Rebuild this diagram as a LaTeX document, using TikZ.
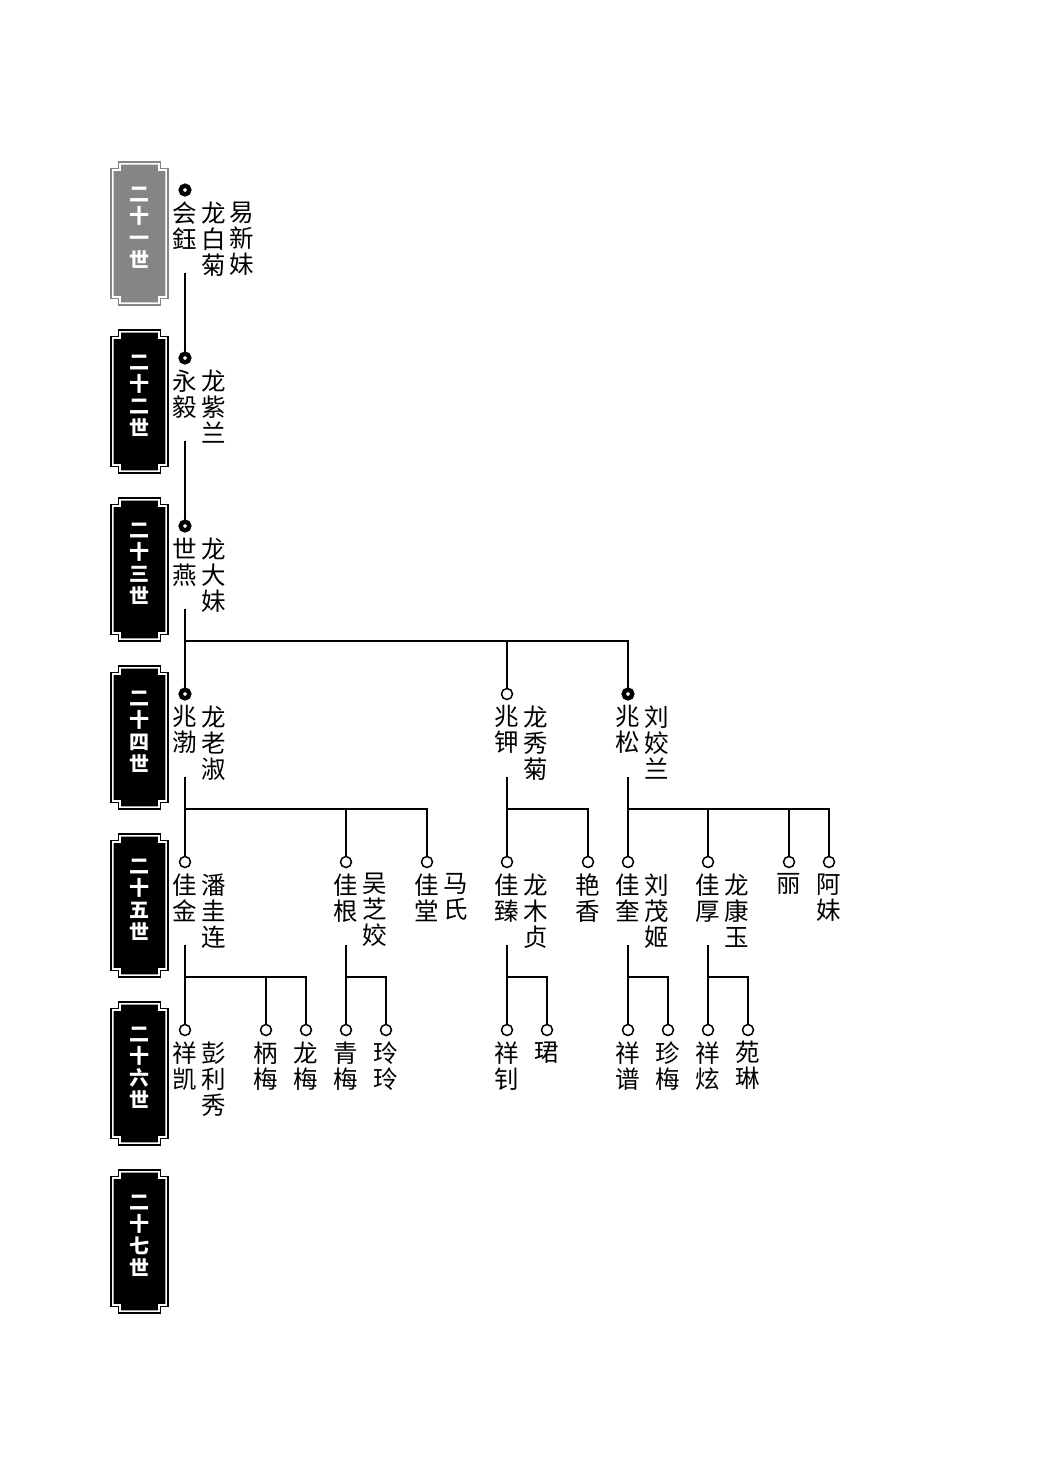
\documentclass[tikz,border=0pt]{standalone}
\usepackage{fontspec}
\setmainfont{Noto Sans CJK SC}
\usetikzlibrary{positioning}
\definecolor{genGray}{gray}{0.52}
\begin{document}
\begin{tikzpicture}[x=1pt,y=-1pt,
	lead/.style={circle,draw,line width=4.4pt,minimum size=8.6pt,inner sep=0pt},
	kin/.style={circle,draw,fill=white,line width=1.5pt,minimum size=11pt,inner sep=0pt},
	who/.style={text width=25pt,align=center,inner sep=0pt,font=\fontsize{24.5}{26}\selectfont},
	link/.style={line width=1.7pt}]
	\useasboundingbox (0,0) rectangle (1041,1473);
	% generation boxes
	\foreach \i/\gn/\col in {0/一/genGray,1/二/black,2/三/black,3/四/black,4/五/black,5/六/black,6/七/black}{
		\begin{scope}[shift={(111,162+168*\i)}]
			\draw[\col,line width=1.2pt](7.5,0)--(49.5,0)--(49.5,6.5)--(57,6.5)--(57,136.5)--(49.5,136.5)--(49.5,143)--(7.5,143)--(7.5,136.5)--(0,136.5)--(0,6.5)--(7.5,6.5)--cycle;
			\fill[\col](10.1,2.6)--(46.9,2.6)--(46.9,9.1)--(54.4,9.1)--(54.4,133.9)--(46.9,133.9)--(46.9,140.4)--(10.1,140.4)--(10.1,133.9)--(2.6,133.9)--(2.6,9.1)--(10.1,9.1)--cycle;
			\node[white,inner sep=0pt,align=center,font=\bfseries\fontsize{20}{22}\selectfont] at (28.5,66) {二\\十\\\gn\\世};
		\end{scope}
	}
	% 21
	\node[lead](hy) at (185,190) {};
	\node[who,below=5pt of hy](hyn) {会\\鈺};
	\node[who,anchor=north west](hys) at ([xshift=3pt]hyn.north east) {龙\\白\\菊};
	\node[who,anchor=north west](hyt) at ([xshift=3pt]hys.north east) {易\\新\\妹};
	% 22
	\node[lead](yy) at (185,358) {};
	\node[who,below=5pt of yy](yyn) {永\\毅};
	\node[who,anchor=north west](yys) at ([xshift=3pt]yyn.north east) {龙\\紫\\兰};
	% 23
	\node[lead](sy) at (185,526) {};
	\node[who,below=5pt of sy](syn) {世\\燕};
	\node[who,anchor=north west](sys) at ([xshift=3pt]syn.north east) {龙\\大\\妹};
	% 24
	\node[lead](zb) at (185,694) {};
	\node[who,below=5pt of zb](zbn) {兆\\渤};
	\node[who,anchor=north west](zbs) at ([xshift=3pt]zbn.north east) {龙\\老\\淑};
	\node[kin](zj) at (507,694) {};
	\node[who,below=5pt of zj](zjn) {兆\\钾};
	\node[who,anchor=north west](zjs) at ([xshift=3pt]zjn.north east) {龙\\秀\\菊};
	\node[lead](zs) at (628,694) {};
	\node[who,below=5pt of zs](zsn) {兆\\松};
	\node[who,anchor=north west](zss) at ([xshift=3pt]zsn.north east) {刘\\姣\\兰};
	% 25
	\node[kin](jj) at (185,862) {};
	\node[who,below=5pt of jj](jjn) {佳\\金};
	\node[who,anchor=north west](jjs) at ([xshift=3pt]jjn.north east) {潘\\圭\\连};
	\node[kin](jg) at (346,862) {};
	\node[who,below=5pt of jg](jgn) {佳\\根};
	\node[who,anchor=north west](jgs) at ([xshift=3pt]jgn.north east) {吴\\芝\\姣};
	\node[kin](jt) at (427,862) {};
	\node[who,below=5pt of jt](jtn) {佳\\堂};
	\node[who,anchor=north west](jts) at ([xshift=3pt]jtn.north east) {马\\氏};
	\node[kin](jz) at (507,862) {};
	\node[who,below=5pt of jz](jzn) {佳\\臻};
	\node[who,anchor=north west](jzs) at ([xshift=3pt]jzn.north east) {龙\\木\\贞};
	\node[kin](yx) at (588,862) {};
	\node[who,below=5pt of yx](yxn) {艳\\香};
	\node[kin](jk) at (628,862) {};
	\node[who,below=5pt of jk](jkn) {佳\\奎};
	\node[who,anchor=north west](jks) at ([xshift=3pt]jkn.north east) {刘\\茂\\姬};
	\node[kin](jh) at (708,862) {};
	\node[who,below=5pt of jh](jhn) {佳\\厚};
	\node[who,anchor=north west](jhs) at ([xshift=3pt]jhn.north east) {龙\\康\\玉};
	\node[kin](li) at (789,862) {};
	\node[who,below=5pt of li](lin) {丽};
	\node[kin](am) at (829,862) {};
	\node[who,below=5pt of am](amn) {阿\\妹};
	% 26
	\node[kin](xk) at (185,1030) {};
	\node[who,below=5pt of xk](xkn) {祥\\凯};
	\node[who,anchor=north west](xks) at ([xshift=3pt]xkn.north east) {彭\\利\\秀};
	\node[kin](bm) at (266,1030) {};
	\node[who,below=5pt of bm](bmn) {柄\\梅};
	\node[kin](lm) at (306,1030) {};
	\node[who,below=5pt of lm](lmn) {龙\\梅};
	\node[kin](qm) at (346,1030) {};
	\node[who,below=5pt of qm](qmn) {青\\梅};
	\node[kin](ll) at (386,1030) {};
	\node[who,below=5pt of ll](lln) {玲\\玲};
	\node[kin](xz) at (507,1030) {};
	\node[who,below=5pt of xz](xzn) {祥\\钊};
	\node[kin](jun) at (547,1030) {};
	\node[who,below=5pt of jun](junn) {珺};
	\node[kin](xp) at (628,1030) {};
	\node[who,below=5pt of xp](xpn) {祥\\谱};
	\node[kin](zm) at (668,1030) {};
	\node[who,below=5pt of zm](zmn) {珍\\梅};
	\node[kin](xx) at (708,1030) {};
	\node[who,below=5pt of xx](xxn) {祥\\炫};
	\node[kin](yl) at (748,1030) {};
	\node[who,below=5pt of yl](yln) {苑\\琳};
	% stems and bars
	\foreach \p in {hy,yy,sy,zb,zj,zs,jj,jg,jz,jk,jh}{
		\coordinate(\p d) at ([yshift=-83pt]\p.center);
		\coordinate(\p b) at ([yshift=-115pt]\p.center);
	}
	\draw[link](hyd)--(yy);
	\draw[link](yyd)--(sy);
	\foreach \p/\kids in {sy/{zb,zj,zs},zb/{jj,jg,jt},zj/{jz,yx},zs/{jk,jh,li,am},jj/{xk,bm,lm},jg/{qm,ll},jz/{xz,jun},jk/{xp,zm},jh/{xx,yl}}{
		\draw[link](\p d)--(\p b);
		\foreach \k in \kids \draw[link](\p b)-|(\k);
	}
\end{tikzpicture}
\end{document}
